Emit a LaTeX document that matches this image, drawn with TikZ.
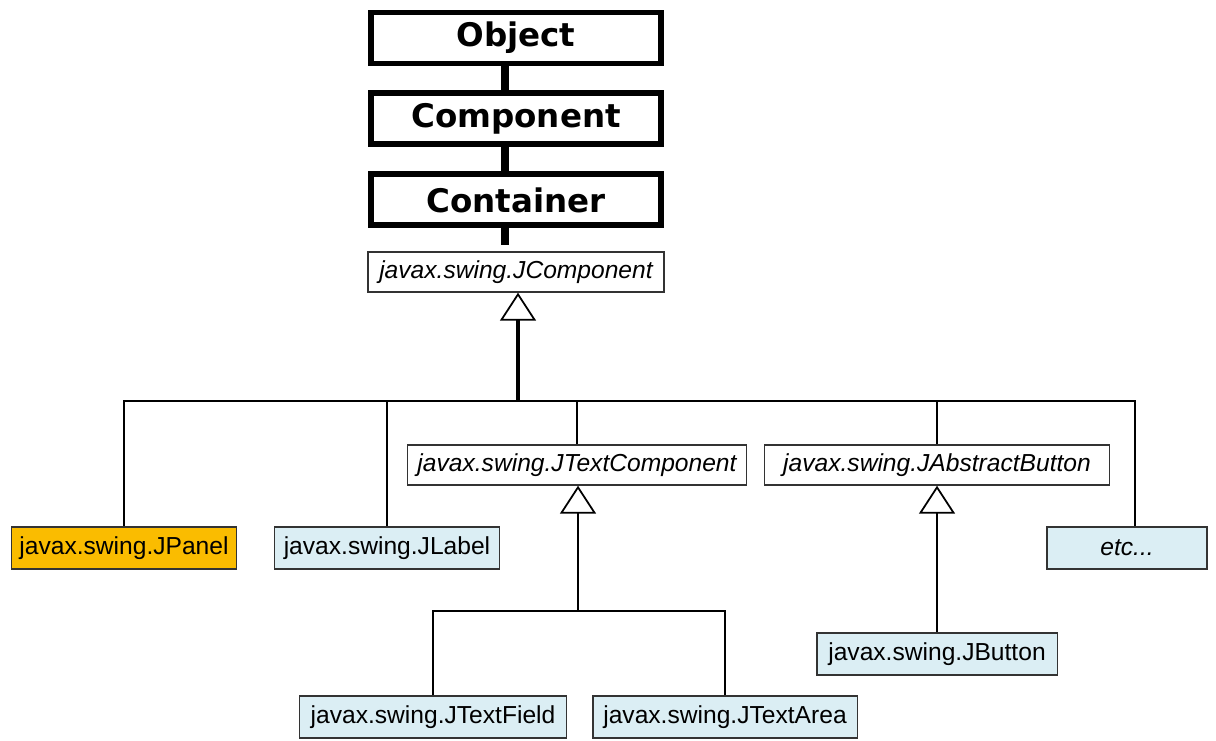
\documentclass[tikz,border=0pt]{standalone}
\usepackage{fontspec}
\setmainfont{Liberation Sans}
\newfontfamily\headfont{DejaVu Sans}
\usetikzlibrary{positioning,arrows.meta}
\definecolor{panelc}{RGB}{250,188,0}
\definecolor{leafc}{RGB}{219,238,244}

\begin{document}
\begin{tikzpicture}[x=0.02cm, y=-0.02cm,
  topbox/.style={draw, line width=3.4pt, minimum width=5.82cm, minimum height=1.02cm, font=\headfont\bfseries\fontsize{18.5}{20}\selectfont},
  absbox/.style={draw=black!80, line width=0.8pt, minimum height=0.8cm, inner sep=0pt, font=\itshape\fontsize{14}{16}\selectfont},
  leafbox/.style={draw=black!80, fill=leafc, line width=1.1pt, minimum height=0.84cm, inner sep=0pt, font=\fontsize{14}{16}\selectfont},
  bar/.style={line width=4.5pt},
  link/.style={line width=1.6pt},
  inherit/.style={link, -{Triangle[open, length=0.56cm, width=0.72cm, line width=1pt]}}]

\useasboundingbox (0,0) rectangle (1216,740);

\node[topbox] (obj) at (516,38) {Object};
\node[topbox, below=0.48cm of obj] (comp) {Component};
\node[topbox, below=0.48cm of comp] (cont) {Container};
\node[absbox, minimum width=5.92cm] (jcomp) at (516,272) {javax.swing.JComponent};

\node[leafbox, fill=panelc, minimum width=4.5cm] (jpanel) at (124,548) {javax.swing.JPanel};
\node[leafbox, minimum width=4.5cm] (jlabel) at (387,548) {javax.swing.JLabel};
\node[absbox, minimum width=6.78cm] (jtext) at (577,465) {javax.swing.JTextComponent};
\node[absbox, minimum width=6.9cm] (jabs) at (937,465) {javax.swing.JAbstractButton};
\node[leafbox, minimum width=3.2cm, font=\itshape\fontsize{14}{16}\selectfont] (etc) at (1127,548) {etc...};
\node[leafbox, minimum width=4.82cm] (jbutton) at (937,654) {javax.swing.JButton};
\node[leafbox, minimum width=5.34cm] (jfield) at (433,717) {javax.swing.JTextField};
\node[leafbox, minimum width=5.3cm] (jarea) at (725,717) {javax.swing.JTextArea};

\coordinate (hub) at (518,401);
\coordinate (tbus) at (578,611);

\draw[bar] ([xshift=-0.22cm]obj.south) -- ([xshift=-0.22cm]comp.north);
\draw[bar] ([xshift=-0.22cm]comp.south) -- ([xshift=-0.22cm]cont.north);
\draw[bar, shorten >=0.12cm] ([xshift=-0.22cm]cont.south) -- ([xshift=-0.22cm]cont.south |- jcomp.north);
\draw[inherit, line width=2.4pt] (hub) -- (hub |- jcomp.south);
\draw[link] (jpanel.north) |- (hub) -| ([xshift=0.16cm]etc.north);
\draw[link] (jlabel.north) -- (jlabel.north |- hub);
\draw[link] (jtext.north) -- (jtext.north |- hub);
\draw[link] (jabs.north) -- (jabs.north |- hub);
\draw[inherit] (tbus) -- (tbus |- jtext.south);
\draw[link] (jfield.north) |- (tbus) -| (jarea.north);
\draw[inherit] (jbutton) -- (jabs);
\end{tikzpicture}
\end{document}
